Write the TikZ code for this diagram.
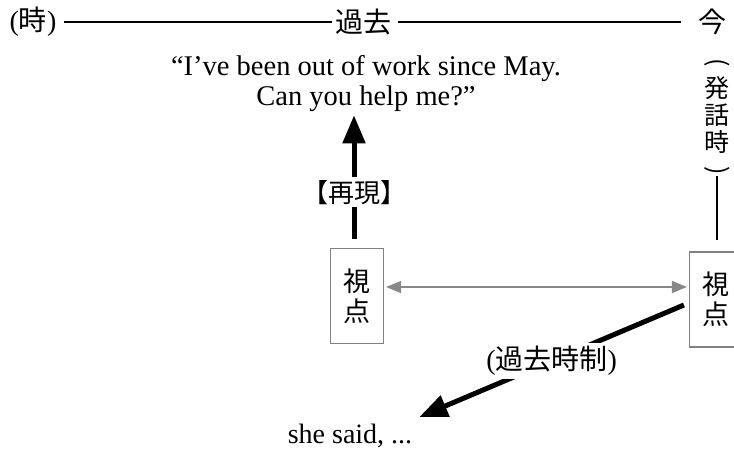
\documentclass[tikz,border=0pt]{standalone}
\usepackage{fontspec}
\setmainfont{Liberation Serif}
\newfontfamily\cjk{Noto Sans CJK JP}
\usetikzlibrary{arrows.meta,calc}
\definecolor{boxgray}{HTML}{808080}
\definecolor{arrgray}{HTML}{888888}
\begin{document}
\begin{tikzpicture}[x=1pt,y=-1pt,
  txt/.style={inner sep=3pt,font=\fontsize{28}{30}\selectfont},
  rule/.style={line width=1.3pt,black},
  viewbox/.style={draw=boxgray,line width=1.2pt,minimum width=53pt,minimum height=95pt,
    align=center,inner sep=0pt,font=\fontsize{27}{30}\selectfont\cjk},
  bigarrow/.style={line width=5pt,-{Triangle[length=28pt,width=22pt]}},
  grayarrow/.style={line width=1.5pt,arrgray,{Triangle[length=15pt,width=12pt]}-{Triangle[length=15pt,width=12pt]}},
  lbl/.style={fill=white,inner sep=3pt}]
\useasboundingbox (0,0) rectangle (734,452);
% time line
\node[txt] (toki) at (33,22) {({\cjk 時})};
\node[txt] (kako) at (363,22) {\cjk 過去};
\node[txt] (ima) at (712,22) {\cjk 今};
\draw[rule] ([xshift=4pt]toki.east) -- (kako.west);
\draw[rule] ([xshift=4pt]kako.east) -- ([xshift=-14pt]ima.west);
% vertical label
\node[inner sep=2pt,align=center,font=\fontsize{25}{27}\selectfont\cjk] (hat) at (717,118)
  {\rotatebox[origin=c]{-90}{(}\\発\\話\\時\\\rotatebox[origin=c]{-90}{)}};
\coordinate (hatend) at (717,240);
\draw[rule] ([yshift=4pt]hat.south) -- (hatend);
% quote
\node[txt,align=center,font=\fontsize{28.5}{30}\selectfont] (quote) at (366,84)
  {“I've been out of work since May.\\Can you help me?”};
% viewpoint boxes
\node[viewbox] (lb) at (357,296) {視\\点};
\node[viewbox] (rb) at (716,299.5) {視\\点};
% gray double arrow
\draw[grayarrow] ($(lb.east)+(2,-9)$) -- ($(rb.west)+(-2,-12.5)$);
% reproduction arrow
\draw[bigarrow,shorten <=9pt] ([xshift=-3pt]lb.north) -- ([xshift=-3pt]lb.north |- quote.south)
  node[pos=0.42,lbl,font=\fontsize{26}{28}\selectfont\cjk] (saigen) {【再現】};
% past tense arrow
\node[txt] (said) at (350,436) {she said, ...};
\draw[bigarrow] ($(rb.west)+(-5,5.5)$) -- ($(said.north east)+(4,-4)$)
  node[midway,lbl,font=\fontsize{28}{30}\selectfont] (jisei) {({\cjk 過去時制})};
\end{tikzpicture}
\end{document}
